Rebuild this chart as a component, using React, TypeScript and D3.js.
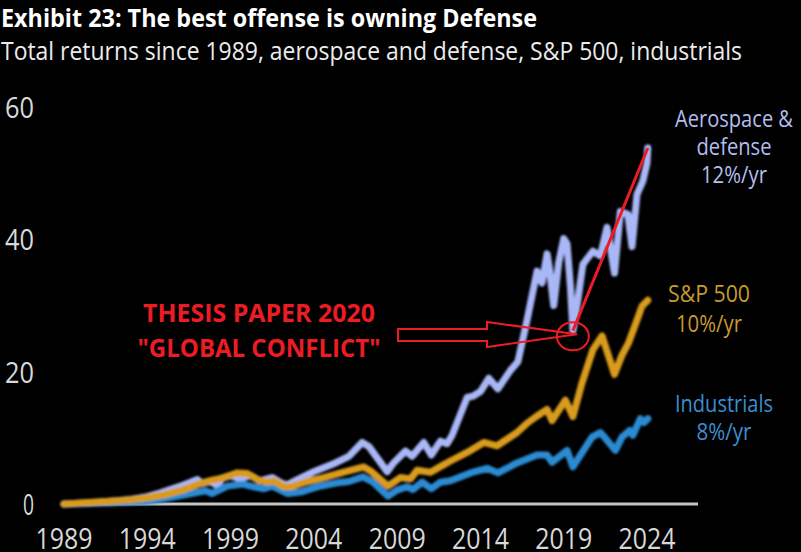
import React from "react";
import * as d3 from "d3";

const W = 801;
const H = 552;

// Aerospace & defense (cumulative total return)
const aeroYears = [1989, 1990, 1991, 1992, 1993, 1994, 1994.8, 1995.5, 1996.1, 1996.6, 1997, 1997.3, 1997.75, 1998.2, 1998.5, 1999, 1999.5, 2000.2, 2000.75, 2001.5, 2002.1, 2002.4, 2003.1, 2004.1, 2005.3, 2006.1, 2006.9, 2007.3, 2008.4, 2008.75, 2009.5, 2009.9, 2010.6, 2011.05, 2011.6, 2012.0, 2012.3, 2013.2, 2013.55, 2014.0, 2014.5, 2015.05, 2015.8, 2016.25, 2016.8, 2017.4, 2017.7, 2018.0, 2018.15, 2018.4, 2018.7, 2019.0, 2019.2, 2019.4, 2019.55, 2019.8, 2020.15, 2020.75, 2021.2, 2021.6, 2022.05, 2022.4, 2022.85, 2023.1, 2023.4, 2023.75, 2024.0, 2024.05];
const aeroValues = [0, 0.1, 0.25, 0.45, 0.7, 1.1, 1.7, 2.3, 2.8, 3.3, 3.7, 3.1, 3.4, 2.8, 3.9, 4.3, 3.8, 4.3, 3.5, 4.0, 3.1, 2.9, 3.8, 5.0, 6.2, 7.2, 9.3, 8.7, 4.9, 6.1, 8.0, 7.2, 9.3, 7.4, 9.5, 9.1, 10.4, 16.1, 16.3, 17.0, 19.0, 17.4, 20.2, 21.5, 27.8, 35.2, 33.4, 37.8, 35.4, 30.0, 36.5, 40.1, 39.3, 33.0, 26.2, 30.0, 36.2, 38.2, 37.5, 41.8, 34.9, 44.2, 43.8, 38.9, 46.8, 48.8, 51.5, 53.8];

// S&P 500
const spxYears = [1989, 1990, 1991, 1992, 1993, 1994, 1995, 1996.1, 1997.3, 1997.9, 1998.5, 1999.4, 2000.0, 2000.6, 2001.2, 2001.6, 2002.2, 2002.6, 2003.6, 2004.6, 2005.8, 2007.0, 2007.4, 2008.45, 2009.2, 2009.8, 2010.2, 2011.0, 2011.7, 2012.2, 2013.2, 2014.2, 2015.0, 2016.2, 2016.8, 2017.4, 2018.0, 2018.3, 2019.1, 2019.55, 2020.1, 2020.75, 2021.3, 2022.05, 2022.5, 2022.9, 2023.4, 2023.7, 2024.05];
const spxValues = [0, 0.15, 0.3, 0.45, 0.65, 0.95, 1.4, 2.1, 3.2, 3.6, 3.9, 4.7, 4.6, 3.7, 3.3, 3.5, 2.6, 2.6, 3.4, 4.0, 4.8, 5.6, 5.0, 2.7, 4.0, 3.8, 5.1, 4.8, 5.8, 6.5, 7.8, 9.3, 8.8, 10.8, 12.2, 13.3, 14.3, 12.6, 15.7, 13.2, 18.3, 23.3, 25.4, 19.6, 22.5, 24.4, 27.8, 29.9, 30.8];

// Industrials
const indYears = [1989, 1990, 1991, 1992, 1993, 1994, 1994.8, 1996.1, 1997.5, 1997.9, 1998.8, 1999.75, 2000.2, 2001.0, 2001.5, 2002.4, 2003.2, 2004.2, 2005.4, 2006.1, 2006.95, 2007.5, 2008.45, 2009.0, 2009.6, 2009.95, 2010.5, 2011.05, 2011.6, 2012.2, 2013.4, 2014.4, 2015.05, 2016.2, 2017.4, 2018.0, 2018.3, 2019.2, 2019.55, 2020.7, 2021.2, 2021.45, 2022.1, 2022.5, 2022.95, 2023.15, 2023.6, 2023.8, 2024.05];
const indValues = [0, 0.05, 0.1, 0.2, 0.3, 0.4, 0.7, 1.3, 2.0, 1.6, 2.7, 3.0, 2.7, 2.3, 2.7, 1.6, 1.8, 2.6, 3.2, 3.4, 4.1, 3.4, 1.2, 2.1, 2.6, 2.2, 3.3, 2.3, 3.3, 3.5, 4.7, 5.4, 4.7, 6.2, 7.4, 7.4, 6.3, 8.1, 5.6, 10.1, 10.8, 10.1, 8.1, 10.1, 11.1, 10.4, 12.9, 12.3, 12.9];

const yearTicks = [1989, 1994, 1999, 2004, 2009, 2014, 2019, 2024];
const valueTicks = [0, 20, 40, 60];

const titleText = "Exhibit 23: The best offense is owning Defense";
const subtitleText = "Total returns since 1989, aerospace and defense, S&P 500, industrials";
const aeroLabel = ["Aerospace &", "defense", "12%/yr"];
const spxLabel = ["S&P 500", "10%/yr"];
const indLabel = ["Industrials", "8%/yr"];
const noteLines = ["THESIS PAPER 2020", "\"GLOBAL CONFLICT\""];
const markYear = 2019.55;
const markValue = 25.5;

const x = d3.scaleLinear().domain([1989, 2024]).range([64, 647]);
const y = d3.scaleLinear().domain([0, 60]).range([504, 107]);

const line = d3
  .line<[number, number]>()
  .x((d) => x(d[0]))
  .y((d) => y(d[1]))
  .curve(d3.curveLinear);

const zip = (a: number[], b: number[]) => a.map((v, i) => [v, b[i]] as [number, number]);

const FONT = "'Open Sans', 'Noto Sans', sans-serif";

export default function App() {
  const aero = zip(aeroYears, aeroValues);
  const spx = zip(spxYears, spxValues);
  const ind = zip(indYears, indValues);

  const cx = x(markYear);
  const cy = y(markValue);
  const last = aero[aero.length - 1];
  const ex = x(last[0]);
  const ey = y(last[1]);

  const arrowPts = [
    [398, 329],
    [487, 329],
    [487, 322],
    [cx + 4, cy - 1],
    [487, 347],
    [487, 341],
    [398, 341],
  ]
    .map((p) => p.join(","))
    .join(" ");

  return (
    <svg
      width={W}
      height={H}
      viewBox={`0 0 ${W} ${H}`}
      style={{ position: "absolute", left: 0, top: 0, display: "block", background: "#000" }}
    >
      <defs>
        <filter id="soft" x="-5%" y="-5%" width="110%" height="110%">
          <feGaussianBlur stdDeviation="0.8" />
        </filter>
      </defs>
      <rect x={0} y={0} width={W} height={H} fill="#000" />

      <text x={1} y={27} fill="#ffffff" fontFamily={FONT} fontWeight={700} fontSize={25} textLength={536} lengthAdjust="spacingAndGlyphs">
        {titleText}
      </text>
      <text x={1} y={60} fill="#ececec" fontFamily={FONT} fontWeight={400} fontSize={26} textLength={741} lengthAdjust="spacingAndGlyphs">
        {subtitleText}
      </text>

      {valueTicks.map((v) => (
        <text
          key={v}
          x={34}
          y={y(v) + 11}
          textAnchor="end"
          fill="#d8d8d8"
          fontFamily={FONT}
          fontSize={30}
          textLength={v === 0 ? 11 : 29}
          lengthAdjust="spacingAndGlyphs"
        >
          {v}
        </text>
      ))}

      {yearTicks.map((t) => (
        <text
          key={t}
          x={x(t)}
          y={549}
          textAnchor="middle"
          fill="#d8d8d8"
          fontFamily={FONT}
          fontSize={29}
          textLength={57}
          lengthAdjust="spacingAndGlyphs"
        >
          {t}
        </text>
      ))}

      <line x1={62} x2={698} y1={y(0)} y2={y(0)} stroke="#c4c4c4" strokeWidth={3} />

      <g filter="url(#soft)" fill="none" strokeLinejoin="round" strokeLinecap="round">
        <path d={line(aero) || ""} stroke="#a9b7f7" strokeWidth={7} />
        <path d={line(ind) || ""} stroke="#2c8bd3" strokeWidth={7} />
        <path d={line(spx) || ""} stroke="#d99b1e" strokeWidth={7} />
      </g>

      {aeroLabel.map((s, i) => (
        <text
          key={s}
          x={734}
          y={127 + i * 28}
          textAnchor="middle"
          fill="#b3bdf0"
          fontFamily={FONT}
          fontSize={24}
          textLength={[118, 75, 66][i]}
          lengthAdjust="spacingAndGlyphs"
        >
          {s}
        </text>
      ))}
      {spxLabel.map((s, i) => (
        <text
          key={s}
          x={709}
          y={302 + i * 30}
          textAnchor="middle"
          fill="#c79a2e"
          fontFamily={FONT}
          fontSize={24}
          textLength={[82, 66][i]}
          lengthAdjust="spacingAndGlyphs"
        >
          {s}
        </text>
      ))}
      {indLabel.map((s, i) => (
        <text
          key={s}
          x={724}
          y={412 + i * 28}
          textAnchor="middle"
          fill="#3b8fd2"
          fontFamily={FONT}
          fontSize={24}
          textLength={[98, 55][i]}
          lengthAdjust="spacingAndGlyphs"
        >
          {s}
        </text>
      ))}

      {noteLines.map((s, i) => (
        <text
          key={s}
          x={259}
          y={322 + i * 35}
          textAnchor="middle"
          fill="#ec1c24"
          fontFamily={FONT}
          fontWeight={700}
          fontSize={25}
          textLength={[232, 243][i]}
          lengthAdjust="spacingAndGlyphs"
        >
          {s}
        </text>
      ))}

      <polygon points={arrowPts} fill="none" stroke="#ec1c24" strokeWidth={2} strokeLinejoin="miter" />
      <ellipse cx={cx} cy={cy + 1} rx={16} ry={14} fill="none" stroke="#ec1c24" strokeWidth={2} />
      <line x1={cx} y1={y(aeroValues[aeroYears.indexOf(markYear)])} x2={ex} y2={ey} stroke="#ec1c24" strokeWidth={3} />
    </svg>
  );
}
